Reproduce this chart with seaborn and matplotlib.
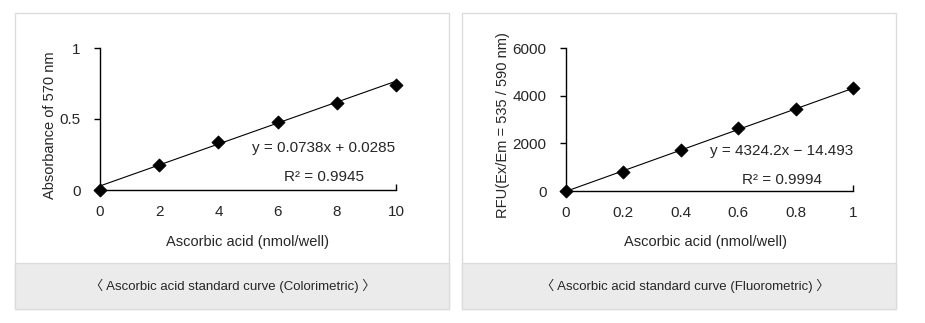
import matplotlib
matplotlib.use("Agg")
import matplotlib.pyplot as plt
from matplotlib.patches import Rectangle
import seaborn as sns
import pandas as pd
import numpy as np

sns.set_theme(style="white")
plt.rcParams['font.family'] = ['Liberation Sans', 'DejaVu Sans']

# Colorimetric panel
color_x = [0, 2, 4, 6, 8, 10]
color_y = [0.0, 0.176, 0.34, 0.477, 0.61, 0.74]
color_slope, color_int = 0.0738, 0.0285
color_eq = "y = 0.0738x + 0.0285"
color_r2 = "R² = 0.9945"
color_xticks = [0, 2, 4, 6, 8, 10]
color_xticklabels = ["0", "2", "4", "6", "8", "10"]
color_yticks = [0, 0.5, 1]
color_yticklabels = ["0", "0.5", "1"]
color_ylabel = "Absorbance of 570 nm"
color_caption = "〈 Ascorbic acid standard curve (Colorimetric) 〉"

# Fluorometric panel
fluo_x = [0, 0.2, 0.4, 0.6, 0.8, 1.0]
fluo_y = [0, 810, 1720, 2657, 3440, 4308]
fluo_slope, fluo_int = 4324.2, -14.493
fluo_eq = "y = 4324.2x − 14.493"
fluo_r2 = "R² = 0.9994"
fluo_xticks = [0, 0.2, 0.4, 0.6, 0.8, 1.0]
fluo_xticklabels = ["0", "0.2", "0.4", "0.6", "0.8", "1"]
fluo_yticks = [0, 2000, 4000, 6000]
fluo_yticklabels = ["0", "2000", "4000", "6000"]
fluo_ylabel = "RFU(Ex/Em = 535 / 590 nm)"
fluo_caption = "〈 Ascorbic acid standard curve (Fluorometric) 〉"

xlabel = "Ascorbic acid (nmol/well)"

W, H = 925, 323
fig = plt.figure(figsize=(W / 100, H / 100), dpi=100)
fig.patch.set_facecolor("white")

def px_rect(x0, y0, x1, y1):
    return (x0 / W, 1 - y1 / H, (x1 - x0) / W, (y1 - y0) / H)

# panel boxes
for (bx0, bx1) in [(15, 449), (462, 896)]:
    l, b, w, h = px_rect(bx0, 13, bx1, 309)
    fig.patches.append(Rectangle((l, b), w, h, transform=fig.transFigure,
                                 facecolor="white", edgecolor="#dcdcdc", lw=1, zorder=-10))
    l, b, w, h = px_rect(bx0, 263, bx1, 309)
    fig.patches.append(Rectangle((l, b), w, h, transform=fig.transFigure,
                                 facecolor="#ebebeb", edgecolor="#dcdcdc", lw=1, zorder=-9))

def panel(rect, xs, ys, slope, icpt, xticks, xtl, yticks, ytl, ylabel, eq, r2,
          eq_pos, r2_pos, ylabel_x, caption, cap_x, xlab_x):
    ax = fig.add_axes(px_rect(*rect))
    ax.set_zorder(5)
    ax.patch.set_alpha(0)
    fx = [xticks[0], xticks[-1]]
    fy = [slope * v + icpt for v in fx]
    sns.lineplot(x=fx, y=fy, ax=ax, color="black", lw=0.8, zorder=2)
    sns.scatterplot(x=xs, y=ys, ax=ax, marker="D", s=45, color="black",
                    edgecolor="black", zorder=3, clip_on=False)
    ax.set_xlim(xticks[0], xticks[-1])
    ax.set_ylim(yticks[0], yticks[-1])
    ax.set_xticks(xticks)
    ax.set_xticklabels(xtl)
    ax.set_yticks(yticks)
    ax.set_yticklabels(ytl)
    ax.xaxis.remove_overlapping_locs = False
    ax.set_xticks([xticks[-1]], minor=True)
    for s in ["top", "right"]:
        ax.spines[s].set_visible(False)
    for s in ["left", "bottom"]:
        ax.spines[s].set_color("black")
        ax.spines[s].set_linewidth(1.0)
    ax.tick_params(axis="y", which="major", direction="out", length=4, width=1,
                   color="black", labelsize=11, pad=10, left=True)
    ax.tick_params(axis="x", which="major", length=0, labelsize=11, pad=11, bottom=True)
    ax.tick_params(axis="x", which="minor", direction="in", length=4, width=1,
                   color="black", bottom=True)
    ax.grid(False)
    ax.set_xlabel("")
    ax.set_ylabel("")
    fig.text(eq_pos[0] / W, 1 - eq_pos[1] / H, eq, ha="center", va="center", fontsize=11)
    fig.text(r2_pos[0] / W, 1 - r2_pos[1] / H, r2, ha="center", va="center", fontsize=11)
    fig.text(ylabel_x / W, 1 - 125 / H, ylabel, rotation=90, ha="center", va="center", fontsize=10.5)
    fig.text(xlab_x / W, 1 - 242 / H, xlabel, ha="center", va="center", fontsize=10.5)
    fig.text(cap_x / W, 1 - 286 / H, caption, ha="center", va="center", fontsize=9.5,
             family=['Liberation Sans', 'Noto Sans CJK KR', 'DejaVu Sans'])
    return ax

panel((100, 48, 396, 190), color_x, color_y, color_slope, color_int,
      color_xticks, color_xticklabels, color_yticks, color_yticklabels,
      color_ylabel, color_eq, color_r2, (324, 148), (324, 177), 50,
      color_caption, 233, 248)
panel((566, 48, 853, 191), fluo_x, fluo_y, fluo_slope, fluo_int,
      fluo_xticks, fluo_xticklabels, fluo_yticks, fluo_yticklabels,
      fluo_ylabel, fluo_eq, fluo_r2, (782, 151), (782, 180), 503,
      fluo_caption, 685, 705)

fig.savefig("out.png", dpi=100, facecolor="white")
